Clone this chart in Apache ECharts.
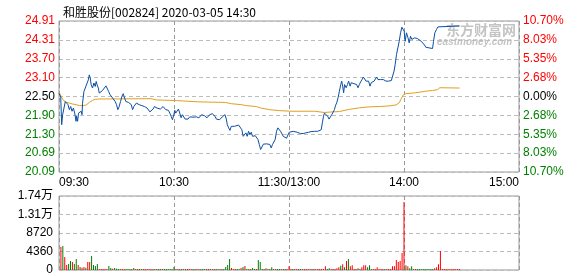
<!DOCTYPE html>
<html><head><meta charset="utf-8">
<script src="https://cdn.jsdelivr.net/npm/echarts@6/dist/echarts.min.js"></script>
<style>html,body{margin:0;padding:0;background:#fff}#c{width:578px;height:276px}</style>
</head><body><div id="c"></div>
<script>
const preClose = 22.50;
const titleText = '和胜股份[002824] 2020-03-05 14:30';
const timeTickLabels = ['09:30', '10:30', '11:30/13:00', '14:00', '15:00'];
const priceTickLabels = ['20.09', '20.69', '21.30', '21.90', '22.50', '23.10', '23.70', '24.31', '24.91'];
const pctTickLabels = ['10.70%', '8.03%', '5.35%', '2.68%', '0.00%', '2.68%', '5.35%', '8.03%', '10.70%'];
const volTickLabels = ['0', '4360', '8720', '1.31万', '1.74万'];

// minutes since 09:30 (trading minutes, lunch break removed)
const priceTimes = [0, 0.9, 1.4, 1.9, 2.6, 3.3, 4.0, 4.7, 5.4, 6.1, 6.8, 7.5, 8.2, 8.9, 9.2, 9.7, 10.2, 10.9, 11.6, 12.0,
  12.3, 13.0, 13.7, 14.1, 14.7, 15.3, 15.8, 16.3, 16.8, 17.5, 18.2, 18.9, 19.4, 19.9, 20.5, 21.0, 21.7, 22.7, 23.6, 24.5,
  25.1, 25.9, 26.6, 27.2, 28.0, 28.6, 29.3, 30.0, 30.7, 31.4, 32.1, 32.8, 33.5, 34.2, 34.9, 35.6, 36.3, 37.0, 37.7, 38.4,
  39.0, 39.7, 40.4, 41.8, 43.2, 44.6, 45.3, 46.0, 46.7, 47.4, 48.3, 49.1, 49.8, 50.5, 51.2, 51.9, 52.9, 53.6, 54.3, 55.0,
  55.7, 56.4, 57.1, 57.8, 58.5, 59.2, 59.9, 60.4, 60.9, 61.6, 62.3, 63.0, 63.7, 64.4, 65.1, 65.8, 66.5, 67.3, 68.2, 69.9,
  71.7, 73.0, 73.8, 74.4, 75.1, 75.8, 76.5, 77.2, 77.9, 78.6, 80.0, 80.7, 81.4, 82.1, 83.8, 84.5, 85.2, 85.9, 86.6, 87.3,
  87.8, 88.5, 89.2, 89.9, 90.8, 91.6, 92.5, 93.7, 94.7, 95.4, 96.1, 96.8, 97.5, 98.2, 98.9, 99.6, 100.3, 101.0, 101.7, 102.4,
  103.1, 103.8, 104.5, 105.2, 105.9, 106.6, 107.2, 108.3, 109.3, 110.0, 110.7, 111.4, 112.1, 112.8, 113.5, 114.2, 114.9, 115.6, 116.3, 117.0,
  117.7, 118.7, 119.4, 120.1, 121.1, 122.2, 123.2, 124.3, 124.9, 126.0, 126.7, 127.4, 128.1, 128.7, 129.5, 130.2, 130.8, 131.5, 133.3, 135.0,
  136.0, 136.8, 137.4, 138.0, 138.5, 139.0, 139.5, 140.2, 140.9, 141.6, 142.3, 143.0, 143.7, 144.2, 144.9, 145.6, 146.3, 147.0, 147.5, 148.0,
  148.5, 149.0, 149.8, 150.5, 151.1, 151.9, 152.5, 153.2, 153.9, 154.6, 155.3, 156.0, 156.7, 157.4, 158.1, 158.8, 159.5, 160.2, 160.9, 161.5,
  162.3, 162.9, 163.6, 164.4, 165.0, 165.7, 166.4, 167.1, 167.8, 168.5, 169.2, 169.9, 170.6, 171.9, 173.4, 174.0, 174.8, 175.4, 176.1, 176.8,
  177.5, 178.2, 178.9, 179.6, 180.1, 180.6, 181.3, 182.1, 182.7, 183.4, 184.1, 184.8, 185.5, 186.2, 186.9, 187.6, 189.0, 189.7, 190.7, 191.4,
  192.3, 194.9, 195.4, 196.1, 196.9, 197.7, 198.3, 209];
const prices = [22.60, 22.48, 21.60, 21.92, 22.13, 22.34, 22.29, 22.24, 22.08, 22.18, 22.03, 22.13, 21.97, 21.71, 21.87, 21.71, 21.97, 21.92, 22.03, 21.92,
  22.29, 22.66, 22.77, 22.72, 22.82, 23.03, 23.19, 23.09, 22.87, 22.77, 22.93, 22.82, 22.98, 22.87, 22.77, 22.61, 22.66, 22.69, 22.72, 22.84,
  22.82, 22.66, 22.56, 22.61, 22.45, 22.50, 22.34, 22.24, 22.08, 22.18, 22.34, 22.50, 22.59, 22.45, 22.34, 22.40, 22.31, 22.34, 22.24, 22.08,
  22.18, 22.24, 22.29, 22.24, 22.21, 22.18, 22.12, 22.13, 22.08, 22.01, 22.05, 22.10, 22.18, 22.24, 22.13, 22.11, 22.10, 22.13, 22.18, 22.13,
  22.08, 22.08, 22.06, 21.97, 21.87, 21.76, 21.92, 22.06, 21.97, 22.03, 22.10, 21.97, 21.82, 21.92, 21.87, 21.78, 21.74, 21.78, 21.85, 21.84,
  21.85, 21.82, 21.87, 21.92, 21.87, 21.89, 21.85, 21.82, 21.87, 21.92, 21.95, 21.92, 21.87, 21.78, 21.76, 21.78, 21.85, 21.89, 21.92, 21.78,
  21.60, 21.50, 21.42, 21.55, 21.50, 21.55, 21.59, 21.59, 21.57, 21.44, 21.23, 21.18, 21.34, 21.23, 21.39, 21.29, 21.36, 21.23, 21.21, 21.25,
  21.21, 21.13, 20.97, 20.81, 20.89, 20.98, 21.00, 20.99, 21.00, 20.97, 20.86, 20.97, 20.94, 21.13, 21.39, 21.50, 21.44, 21.39, 21.34, 21.23,
  21.18, 21.17, 21.23, 21.36, 21.39, 21.39, 21.42, 21.36, 21.34, 21.32, 21.29, 21.32, 21.29, 21.34, 21.32, 21.36, 21.34, 21.38, 21.39, 21.39,
  21.42, 21.44, 21.66, 21.87, 21.97, 21.92, 21.99, 21.87, 21.78, 21.85, 21.92, 21.97, 22.08, 22.20, 22.30, 22.46, 22.67, 22.88, 22.99, 22.83,
  22.62, 22.88, 22.78, 22.88, 22.99, 22.83, 22.94, 22.99, 22.91, 22.97, 22.88, 22.78, 22.88, 22.97, 23.04, 23.12, 23.10, 22.99, 23.04, 22.99,
  22.83, 22.94, 22.88, 22.99, 23.04, 23.12, 23.04, 23.10, 23.04, 22.99, 23.04, 23.07, 22.99, 22.99, 23.01, 23.07, 23.31, 23.52, 23.84, 24.05,
  24.26, 24.53, 24.71, 24.75, 24.58, 24.26, 24.53, 24.37, 24.21, 24.42, 24.32, 24.26, 24.37, 24.42, 24.35, 24.32, 24.26, 24.21, 24.14, 24.07,
  24.03, 24.03, 24.26, 24.53, 24.63, 24.72, 24.75, 24.75];

const avgTimes = [0, 1.2, 1.9, 2.6, 3.6, 5.4, 7.1, 8.9, 10.6, 13.0, 14.4, 15.8, 17.5, 18.9, 21.0, 48.0, 50.8, 61.3, 72.5, 86.9,
  89.9, 95.1, 97.7, 102.9, 105.5, 109.8, 115.0, 121.1, 133.3, 134.2, 138.5, 142.8, 146.3, 151.5, 156.7, 161.9, 167.1, 172.3, 175.8, 177.5,
  178.4, 179.6, 181.0, 186.2, 191.4, 194.9, 197.5, 198.7, 209];
const avgPrices = [22.64, 22.50, 22.40, 22.34, 22.32, 22.29, 22.26, 22.24, 22.21, 22.21, 22.24, 22.31, 22.38, 22.41, 22.42, 22.43, 22.39, 22.37, 22.33, 22.31,
  22.27, 22.24, 22.21, 22.18, 22.13, 22.08, 22.05, 22.03, 22.03, 21.99, 21.99, 22.01, 22.02, 22.09, 22.14, 22.17, 22.18, 22.20, 22.23, 22.30,
  22.41, 22.55, 22.59, 22.62, 22.67, 22.69, 22.72, 22.78, 22.77];

// one bar per minute, starting at 09:31
const volumes = [5420, 5660, 3060, 1180, 1410, 2120, 1890, 1410, 2590, 1180, 710, 550, 710, 550, 1890, 1890, 3300, 1180, 940, 1410,
  240, 240, 200, 220, 200, 940, 470, 310, 470, 310, 240, 200, 200, 240, 200, 200, 240, 200, 470, 200,
  240, 200, 200, 240, 200, 200, 240, 200, 240, 200, 200, 240, 200, 240, 200, 240, 200, 200, 240, 710,
  240, 200, 200, 240, 200, 240, 200, 200, 240, 200, 200, 240, 200, 200, 240, 200, 200, 240, 200, 200,
  240, 200, 200, 240, 200, 240, 710, 1180, 2590, 470, 240, 200, 240, 240, 470, 710, 940, 240, 200, 240,
  470, 240, 200, 2360, 1890, 240, 240, 390, 240, 200, 630, 200, 240, 200, 240, 200, 240, 200, 200, 860,
  240, 200, 240, 200, 240, 200, 240, 200, 200, 240, 200, 240, 200, 240, 200, 240, 200, 240, 860, 240,
  390, 240, 200, 240, 390, 630, 1020, 1340, 630, 2120, 2590, 860, 1100, 240, 240, 390, 240, 630, 1100, 1100,
  630, 1100, 240, 240, 200, 630, 240, 200, 240, 200, 240, 240, 200, 860, 860, 2360, 1890, 2120, 4010, 16030,
  1100, 860, 390, 860, 240, 200, 240, 200, 240, 200, 240, 200, 240, 200, 240, 390, 630, 1340, 4480, 240,
  240, 200, 240, 200, 240, 200, 240, 200, 240];
const volumeUp = [1, 0, 1, 1, 0, 0, 1, 0, 0, 1, 0, 1, 1, 0, 1, 1, 0, 0, 0, 0,
  1, 1, 1, 1, 1, 0, 0, 1, 0, 0, 0, 1, 1, 1, 0, 0, 0, 1, 0, 1,
  1, 0, 0, 1, 1, 1, 1, 1, 0, 0, 1, 0, 0, 1, 0, 0, 0, 0, 0, 0,
  1, 1, 0, 0, 1, 0, 1, 1, 1, 0, 0, 1, 1, 0, 0, 0, 1, 1, 0, 1,
  1, 0, 0, 0, 1, 0, 0, 0, 0, 1, 1, 1, 0, 0, 1, 0, 1, 0, 0, 1,
  0, 0, 1, 0, 0, 0, 1, 0, 1, 0, 0, 0, 1, 0, 0, 0, 1, 0, 1, 1,
  1, 0, 1, 1, 0, 1, 0, 1, 1, 0, 1, 1, 0, 1, 1, 1, 1, 1, 1, 0,
  0, 1, 1, 1, 1, 1, 0, 1, 0, 1, 0, 1, 1, 1, 1, 0, 1, 1, 1, 1,
  0, 0, 0, 1, 1, 1, 1, 1, 1, 0, 1, 1, 1, 1, 1, 1, 1, 1, 1, 1,
  0, 1, 0, 0, 0, 1, 0, 0, 0, 0, 0, 0, 0, 0, 0, 1, 1, 1, 1, 1,
  1, 1, 1, 1, 1, 1, 1, 1, 1];

const RED = '#ff0000', GREEN = '#008000', DARK = '#000000', GRIDC = '#bcbcbc', VGRIDC = '#999999';
const FONT = '"Liberation Sans", "Noto Sans CJK SC", sans-serif';
const toPct = p => (p - preClose) / preClose * 100;
const pctIdx = v => Math.round((Number(v) + 10.7) / 2.675);
const tickColor = v => { const i = pctIdx(v); return i > 4 ? RED : (i < 4 ? GREEN : DARK); };

const chart = echarts.init(document.getElementById('c'), null, { renderer: 'canvas' });
const mkDashed = c => ({ show: true, lineStyle: { color: c, type: [4, 3], width: 1 } });

chart.setOption({
  animation: false,
  backgroundColor: '#fff',
  textStyle: { fontFamily: FONT },
  title: {
    text: titleText, left: 58, top: 1,
    textStyle: { fontSize: 12, fontWeight: 'normal', color: '#000', fontFamily: '"Noto Sans CJK SC", sans-serif' }
  },
  graphic: [
    { type: 'text', left: 446, top: 23, z: 0, style: { text: '东方财富网', fill: '#c4c4c4', font: 'bold 14px "Noto Sans CJK SC", sans-serif' } },
    { type: 'text', left: 437, top: 37, z: 0, style: { text: 'eastmoney.com', fill: '#c4c4c4', font: 'italic bold 10px "Liberation Sans", sans-serif' } }
  ],
  grid: [
    { left: 59, right: 59, top: 21, height: 151, show: true, borderColor: '#999', borderWidth: 1, backgroundColor: 'transparent' },
    { left: 59, right: 59, top: 196, height: 74, show: true, borderColor: '#999', borderWidth: 1, backgroundColor: 'transparent' }
  ],
  xAxis: [
    {
      type: 'value', gridIndex: 0, min: 0, max: 240, interval: 60,
      axisLine: { show: false }, axisTick: { show: false }, splitLine: mkDashed(VGRIDC),
      axisLabel: {
        show: true, margin: 5, fontSize: 12, color: '#000', fontFamily: FONT,
        alignMinLabel: 'left', alignMaxLabel: 'right',
        formatter: v => timeTickLabels[Math.round(Number(v) / 60)]
      }
    },
    {
      type: 'value', gridIndex: 1, min: 0, max: 240, interval: 60,
      axisLine: { show: false }, axisTick: { show: false }, splitLine: mkDashed(VGRIDC),
      axisLabel: { show: false }
    }
  ],
  yAxis: [
    {
      type: 'value', gridIndex: 0, min: -10.7, max: 10.7, interval: 2.675, position: 'left',
      axisLine: { show: false }, axisTick: { show: false }, splitLine: mkDashed(GRIDC),
      axisLabel: { margin: 4, fontSize: 12, fontFamily: FONT, formatter: v => priceTickLabels[pctIdx(v)], color: v => tickColor(v) }
    },
    {
      type: 'value', gridIndex: 0, min: -10.7, max: 10.7, interval: 2.675, position: 'right',
      axisLine: { show: false }, axisTick: { show: false }, splitLine: { show: false },
      axisLabel: { margin: 4, fontSize: 12, fontFamily: FONT, formatter: v => pctTickLabels[pctIdx(v)], color: v => tickColor(v) }
    },
    {
      type: 'value', gridIndex: 1, min: 0, max: 17440, interval: 4360,
      axisLine: { show: false }, axisTick: { show: false }, splitLine: mkDashed(GRIDC),
      axisLabel: { margin: 6, fontSize: 12, color: '#000', fontFamily: FONT, formatter: v => volTickLabels[Math.round(Number(v) / 4360)] }
    }
  ],
  series: [
    {
      type: 'line', xAxisIndex: 0, yAxisIndex: 0, showSymbol: false, z: 3,
      lineStyle: { color: '#e0a020', width: 1 },
      data: avgTimes.map((t, i) => [t, toPct(avgPrices[i])])
    },
    {
      type: 'line', xAxisIndex: 0, yAxisIndex: 0, showSymbol: false, z: 4,
      lineStyle: { color: '#0a4fa3', width: 1 },
      data: priceTimes.map((t, i) => [t, toPct(prices[i])])
    },
    {
      type: 'bar', xAxisIndex: 1, yAxisIndex: 2, barWidth: 1, barMinHeight: 1,
      data: volumes.map((v, i) => ({ value: [i + 1, v], itemStyle: { color: volumeUp[i] ? RED : GREEN } }))
    }
  ]
});
</script>
</body></html>
